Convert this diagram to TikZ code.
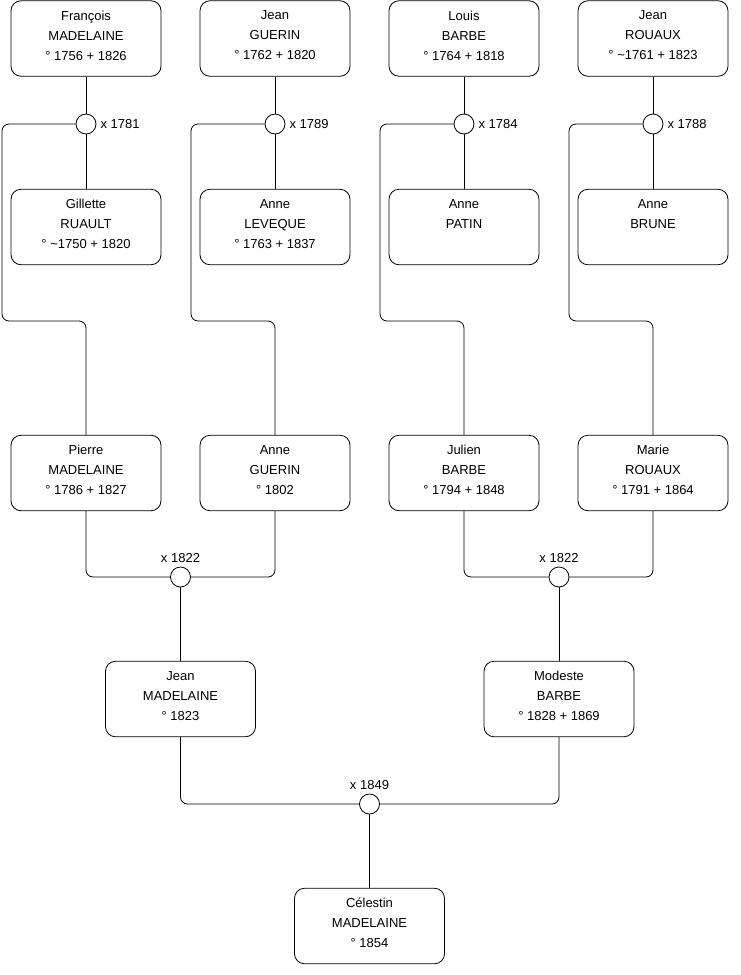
\documentclass[tikz,border=0pt]{standalone}
\usepackage{fontspec}
\setmainfont{Liberation Sans}
\begin{document}
\begin{tikzpicture}[x=1pt,y=-1pt,
  box/.style={draw=black,line width=0.8pt,rounded corners=10pt,minimum width=150pt,minimum height=75.5pt,inner sep=0pt},
  txt/.style={align=center,font=\fontsize{13}{20}\selectfont,inner sep=0pt},
  union/.style={draw=black,circle,line width=0.8pt,minimum size=20pt,inner sep=0pt,fill=white},
  date/.style={font=\fontsize{13}{15}\selectfont,inner sep=0pt},
  link/.style={draw=black,line width=0.8pt,rounded corners=7pt}]
\useasboundingbox (0,0) rectangle (740,975);
\newcommand{\person}[4]{%
  \node[box] (#1) at (#2,#3) {};
  \node[txt] (#1t) at ([yshift=3pt]#1.center) {#4};}
% row 1
\person{a1}{86}{38.5}{François\\MADELAINE\\° 1756 + 1826}
\person{a2}{275}{38.5}{Jean\\GUERIN\\° 1762 + 1820}
\person{a3}{464}{38.5}{Louis\\BARBE\\° 1764 + 1818}
\person{a4}{653}{38.5}{Jean\\ROUAUX\\° \textasciitilde1761 + 1823}
% row 2
\person{b1}{86}{227}{Gillette\\RUAULT\\° \textasciitilde1750 + 1820}
\person{b2}{275}{227}{Anne\\LEVEQUE\\° 1763 + 1837}
\person{b3}{464}{227}{Anne\\PATIN\\\mbox{}}
\person{b4}{653}{227}{Anne\\BRUNE\\\mbox{}}
% row 3
\person{p1}{86}{473}{Pierre\\MADELAINE\\° 1786 + 1827}
\person{p2}{275}{473}{Anne\\GUERIN\\° 1802}
\person{p3}{464}{473}{Julien\\BARBE\\° 1794 + 1848}
\person{p4}{653}{473}{Marie\\ROUAUX\\° 1791 + 1864}
% row 4
\person{j1}{180.5}{699}{Jean\\MADELAINE\\° 1823}
\person{j2}{559}{699}{Modeste\\BARBE\\° 1828 + 1869}
% row 5
\person{ce}{369.5}{926}{Célestin\\MADELAINE\\° 1854}
% unions
\node[union] (c1) at (86,124) {};
\node[union] (c2) at (275,124) {};
\node[union] (c3) at (464,124) {};
\node[union] (c4) at (653,124) {};
\node[union] (c5) at (180.5,577) {};
\node[union] (c6) at (559,577) {};
\node[union] (c7) at (369.5,804) {};
% connectors row 1
\draw[link] (a1.south) -- (c1.north);
\draw[link] (a2.south) -- (c2.north);
\draw[link] (a3.south) -- (c3.north);
\draw[link] (a4.south) -- (c4.north);
\draw[link] (c1.south) -- (b1.north);
\draw[link] (c2.south) -- (b2.north);
\draw[link] (c3.south) -- (b3.north);
\draw[link] (c4.south) -- (b4.north);
\draw[link] (c1.west) -| (2,321) -| (p1.north);
\draw[link] (c2.west) -| (191,321) -| (p2.north);
\draw[link] (c3.west) -| (380,321) -| (p3.north);
\draw[link] (c4.west) -| (569,321) -| (p4.north);
% row 3
\draw[link] (p1.south) |- (c5.west);
\draw[link] (p2.south) |- (c5.east);
\draw[link] (p3.south) |- (c6.west);
\draw[link] (p4.south) |- (c6.east);
\draw[link] (c5.south) -- (j1.north);
\draw[link] (c6.south) -- (j2.north);
% row 4
\draw[link] (j1.south) |- (c7.west);
\draw[link] (j2.south) |- (c7.east);
\draw[link] (c7.south) -- (ce.north);
% labels
\node[date,anchor=west] (l1) at ([xshift=4pt]c1.east) {x 1781};
\node[date,anchor=west] (l2) at ([xshift=4pt]c2.east) {x 1789};
\node[date,anchor=west] (l3) at ([xshift=4pt]c3.east) {x 1784};
\node[date,anchor=west] (l4) at ([xshift=4pt]c4.east) {x 1788};
\node[date,anchor=south] (l5) at ([yshift=3.5pt]c5.north) {x 1822};
\node[date,anchor=south] (l6) at ([yshift=3.5pt]c6.north) {x 1822};
\node[date,anchor=south] (l7) at ([yshift=3.5pt]c7.north) {x 1849};
\end{tikzpicture}
\end{document}
